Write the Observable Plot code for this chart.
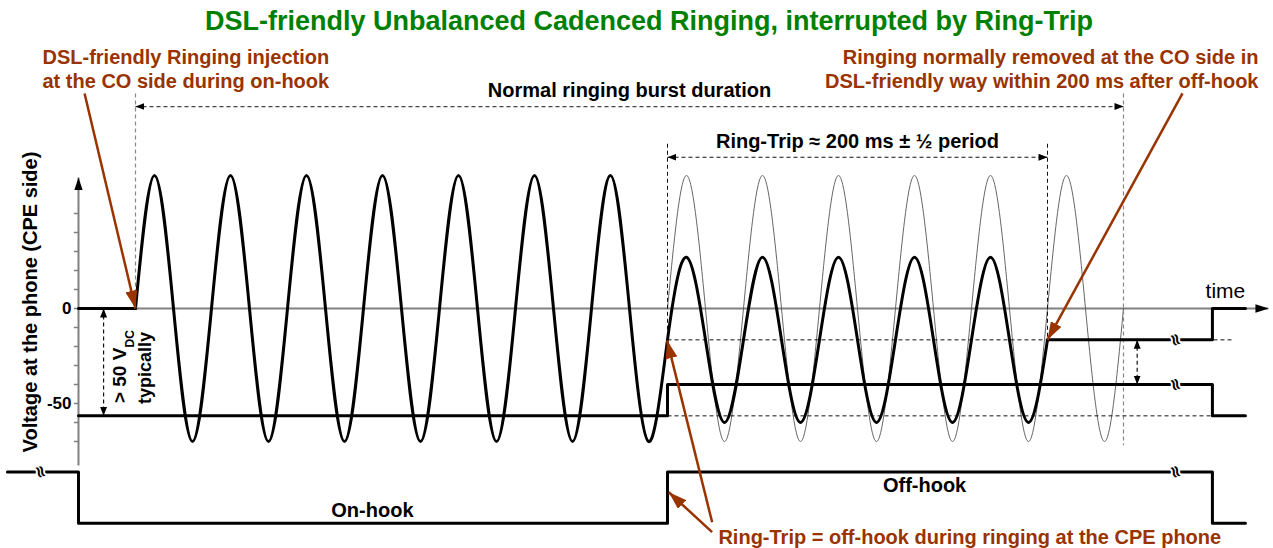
<!DOCTYPE html>
<html>
<head>
<meta charset="utf-8">
<script src="https://cdn.jsdelivr.net/npm/d3@7"></script>
<script src="https://cdn.jsdelivr.net/npm/@observablehq/plot@0.6"></script>
<style>
  body { margin: 0; background: #fff; }
  #title {
    height: 40px; box-sizing: border-box; padding-top: 3px; padding-left: 25px;
    text-align: center; font: bold 27px "Liberation Sans", Arial, sans-serif;
    line-height: 37px; color: #008000; white-space: nowrap; overflow: visible;
  }
  svg { display: block; }
</style>
</head>
<body>
<div id="title">DSL-friendly Unbalanced Cadenced Ringing, interrupted by Ring-Trip</div>
<div id="chart"></div>
<script>
// ---- data (time in ms, 0 = start of ringing burst; voltage in V) ----
const boldWaveT = [0,10,20,30,40,50,60,70,80,90,100,110,120,130,140,150,160,170,180,190,200,210,220,230,240,250,260,270,
                   280,290,300,310,320,330,340,350,360,370,380,390,400,410,420,430,440,450,460,470,480];
const boldWaveV = [0,70,0,-70,0,70,0,-70,0,70,0,-70,0,70,0,-70,0,70,0,-70,0,70,0,-70,0,70,0,-70,
                   -16.5,27,-16.5,-60,-16.5,27,-16.5,-60,-16.5,27,-16.5,-60,-16.5,27,-16.5,-60,-16.5,27,-16.5,-60,-16.5];
const thinWaveT = [280,290,300,310,320,330,340,350,360,370,380,390,400,410,420,430,440,450,460,470,480,490,500,510,520];
const thinWaveV = [0,70,0,-70,0,70,0,-70,0,70,0,-70,0,70,0,-70,0,70,0,-70,0,70,0,-70,0];
const preRingT = [-30, 0];
const preRingV = [0, 0];
const dcLevelT = [-30, 280, 280, 566.8, 566.8, 584.2];
const dcLevelV = [-56.5, -56.5, -40, -40, -56.5, -56.5];
const tripLevelT = [480, 566.8, 566.8, 584.2];
const tripLevelV = [-16.5, -16.5, 0, 0];
const hookT = [-67.4, -30, -30, 280, 280, 566.8, 566.8, 584.2];
const hookV = [-86, -86, -113, -113, -86, -86, -113, -113];
const yTicks = [-70,-60,-50,-40,-30,-20,-10,0,10,20,30,40,50];
const yLabelValues = [0, -50];
const yLabelTexts = ["0", "-50"];

const BROWN = "#993300";
const AXIS_GRAY = "#808080";
const FONT = '"Liberation Sans", Arial, sans-serif';

const pts = (T, V) => T.map((t, i) => ({t, v: V[i]}));

const axisLines = [
  {x1: -30, y1: -82.6, x2: -30, y2: 69},
  {x1: -30, y1: 0, x2: 596.3, y2: 0}
];
const dimArrows = [
  {x1: 0, y1: 106.3, x2: 520, y2: 106.3, c: "#444"},
  {x1: 280, y1: 79.6, x2: 480, y2: 79.6, c: "#111"},
  {x1: -16.8, y1: 0, x2: -16.8, y2: -56.5, c: "#111"},
  {x1: 527.2, y1: -16.5, x2: 527.2, y2: -40, c: "#111"}
];
const extGray = [
  {x1: 0, y1: 113.2, x2: 0, y2: 0},
  {x1: 520, y1: 113.2, x2: 520, y2: -72}
];
const extBlack = [
  {x1: 280, y1: 86.7, x2: 280, y2: -16.5},
  {x1: 480, y1: 86.7, x2: 480, y2: -16.5},
  {x1: 280, y1: -16.5, x2: 577.4, y2: -16.5},
  {x1: 280, y1: -56.5, x2: 566.8, y2: -56.5}
];
const callouts = [
  {x1: -26.8, y1: 113.2, x2: 0, y2: 0},
  {x1: 551.05, y1: 113.2, x2: 480, y2: -16.5},
  {x1: 303.5, y1: -112.5, x2: 279.8, y2: -16.8},
  {x1: 303.5, y1: -117.7, x2: 280.7, y2: -96.7}
];
const breaks = [
  {t: -50, v: -86}, {t: 547.4, v: -86}, {t: 547.4, v: -40}, {t: 547.4, v: -16.5}
];

const linkOpts = {x1: "x1", y1: "y1", x2: "x2", y2: "y2"};
const txt = (s, o) => Plot.text([s], {text: d => d, fontFamily: FONT, ...o});

const chart = Plot.plot({
  width: 1273, height: 508,
  marginTop: 0, marginRight: 0, marginBottom: 0, marginLeft: 0,
  x: {domain: [-71.05, 598.95], axis: null},
  y: {domain: [-126.316, 141.053], axis: null},
  style: {fontFamily: FONT, background: "white", overflow: "visible"},
  marks: [
    // axes
    Plot.ruleY(yTicks, {y: d => d, x1: -32.2, x2: -30, stroke: AXIS_GRAY, strokeWidth: 1.5}),
    Plot.link(axisLines, {...linkOpts, stroke: AXIS_GRAY, strokeWidth: 2, markerEnd: "arrow"}),
    // thin continuation of normal ringing
    Plot.line(pts(thinWaveT, thinWaveV), {x: "t", y: "v", curve: "natural", stroke: "#555", strokeWidth: 0.9}),
    // dashed helper lines
    Plot.link(extGray, {...linkOpts, stroke: "#888", strokeWidth: 1.2, strokeDasharray: "4,3"}),
    Plot.link(extBlack, {...linkOpts, stroke: "#111", strokeWidth: 1, strokeDasharray: "4,3"}),
    Plot.link(dimArrows, {...linkOpts, stroke: "c", strokeWidth: 1.2, strokeDasharray: "4,3", markerStart: "arrow", markerEnd: "arrow"}),
    // bold voltage traces
    Plot.line(pts(preRingT, preRingV), {x: "t", y: "v", stroke: "black", strokeWidth: 3}),
    Plot.line(pts(boldWaveT, boldWaveV), {x: "t", y: "v", curve: "natural", stroke: "black", strokeWidth: 3}),
    Plot.line(pts(dcLevelT, dcLevelV), {x: "t", y: "v", stroke: "black", strokeWidth: 3}),
    Plot.line(pts(tripLevelT, tripLevelV), {x: "t", y: "v", stroke: "black", strokeWidth: 3}),
    Plot.line(pts(hookT, hookV), {x: "t", y: "v", stroke: "black", strokeWidth: 3}),
    // break symbols
    Plot.text(breaks, {x: "t", y: "v", text: () => "≈", rotate: 70, fontSize: 17, fontWeight: "bold",
      fill: "black", stroke: "white", strokeWidth: 4, paintOrder: "stroke", fontFamily: "DejaVu Sans"}),
    // callout arrows
    Plot.link(callouts, {...linkOpts, stroke: BROWN, strokeWidth: 2.5, markerEnd: "arrow"}),
    // tick labels
    Plot.text(yLabelValues, {x: -30, y: d => d, text: (d, i) => yLabelTexts[i], dx: -7, textAnchor: "end",
      fontSize: 17, fontWeight: "bold", fontFamily: FONT}),
    // axis labels
    txt("Voltage at the phone (CPE side)", {x: -51.7, y: 3.4, rotate: -90, lineAnchor: "bottom", textAnchor: "middle", fontSize: 20, fontWeight: "bold"}),
    txt("time", {x: 563.2, y: 5.3, lineAnchor: "bottom", textAnchor: "start", fontSize: 21}),
    // annotations
    txt("DSL-friendly Ringing injection\nat the CO side during on-hook", {x: -48.95, y: 116.3, lineAnchor: "bottom", textAnchor: "start", lineHeight: 1.175, fontSize: 20, fontWeight: "bold", fill: BROWN}),
    txt("Ringing normally removed at the CO side in\nDSL-friendly way within 200 ms after off-hook", {x: 591.05, y: 116.2, lineAnchor: "bottom", textAnchor: "end", lineHeight: 1.175, fontSize: 20, fontWeight: "bold", fill: BROWN}),
    txt("Ring-Trip = off-hook during ringing at the CPE phone", {x: 306.8, y: -123.7, lineAnchor: "bottom", textAnchor: "start", fontSize: 20, fontWeight: "bold", fill: BROWN}),
    txt("Normal ringing burst duration", {x: 260, y: 111.2, lineAnchor: "bottom", textAnchor: "middle", fontSize: 20, fontWeight: "bold"}),
    txt("Ring-Trip ≈ 200 ms ± ½ period", {x: 380, y: 84.4, lineAnchor: "bottom", textAnchor: "middle", fontSize: 20, fontWeight: "bold"}),
    txt("> 50 V", {x: -5.26, y: -49.8, rotate: -90, lineAnchor: "bottom", textAnchor: "start", fontSize: 19, fontWeight: "bold"}),
    txt("DC", {x: -1.05, y: -20.5, rotate: -90, lineAnchor: "bottom", textAnchor: "start", fontSize: 12, fontWeight: "bold"}),
    txt("typically", {x: 7.9, y: -31.3, rotate: -90, lineAnchor: "bottom", textAnchor: "middle", fontSize: 18, fontWeight: "bold"}),
    txt("On-hook", {x: 124.7, y: -109.5, lineAnchor: "bottom", textAnchor: "middle", fontSize: 20, fontWeight: "bold"}),
    txt("Off-hook", {x: 415.3, y: -96.8, lineAnchor: "bottom", textAnchor: "middle", fontSize: 20, fontWeight: "bold"})
  ]
});

document.getElementById("chart").appendChild(chart);

// double-headed arrows: start markers point outward
d3.select(chart).selectAll("[marker-start]").each(function () {
  const id = this.getAttribute("marker-start").replace(/^url\(#/, "").replace(/\)$/, "");
  const m = chart.querySelector("#" + id);
  if (m) m.setAttribute("orient", "auto-start-reverse");
});
// filled triangular arrowheads
d3.select(chart).selectAll("marker").each(function () {
  const m = d3.select(this);
  const c = m.attr("stroke");
  let L = 9, W = 7, fill = "black";
  if (c === BROWN) { L = 18; W = 12; fill = BROWN; }
  else if (c === AXIS_GRAY) { L = 13; W = 8.5; fill = "black"; }
  m.attr("viewBox", `${-L} ${-W / 2} ${L} ${W}`)
   .attr("markerUnits", "userSpaceOnUse")
   .attr("markerWidth", L).attr("markerHeight", W)
   .attr("refX", 0).attr("refY", 0)
   .attr("fill", fill).attr("stroke", "none")
   .attr("stroke-dasharray", "none");
  m.selectAll("path").attr("d", `M${-L},${-W / 2}L0,0L${-L},${W / 2}Z`).attr("stroke", "none");
});
</script>
</body>
</html>
